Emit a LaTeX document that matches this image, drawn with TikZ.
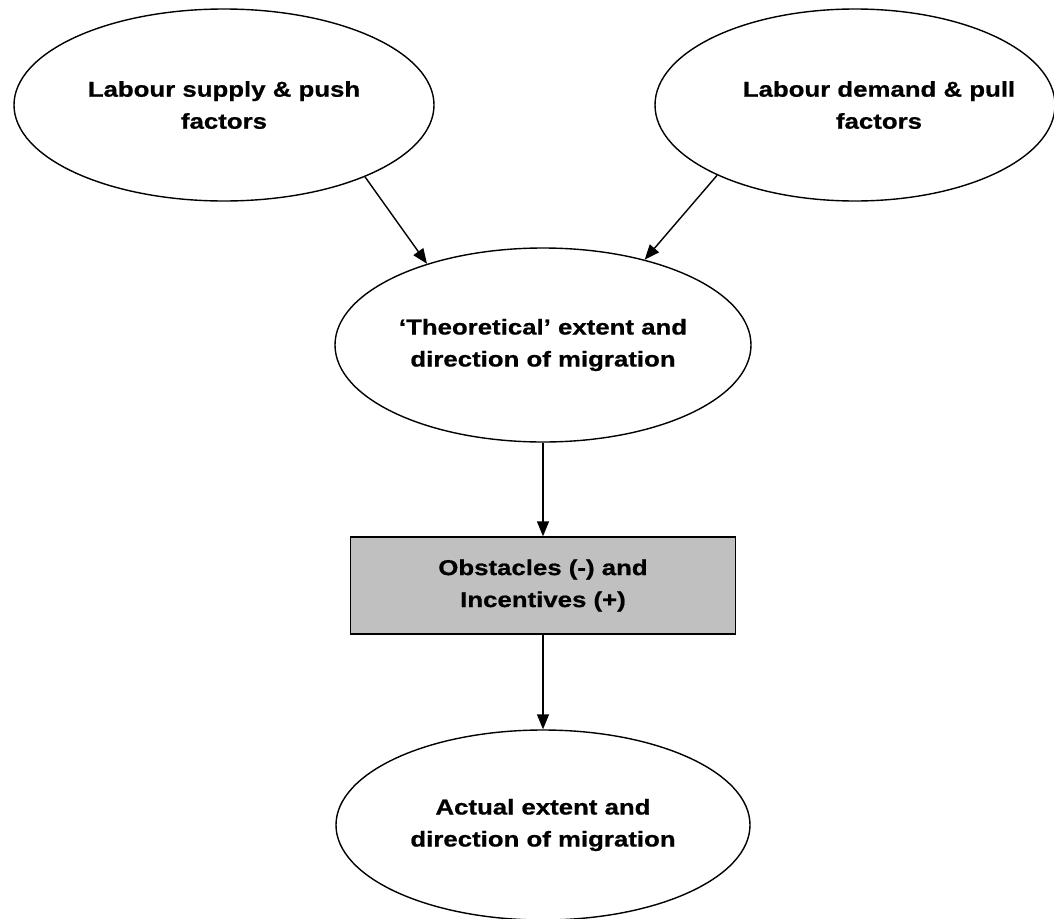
\documentclass[tikz,border=0pt]{standalone}
\usepackage{fontspec}
\setmainfont{Liberation Sans}[FakeStretch=1.2, BoldFeatures={FakeBold=0.8}]
\usetikzlibrary{shapes.geometric,arrows.meta}
\definecolor{boxgray}{HTML}{C0C0C0}
\tikzset{
  lbl/.style={font=\fontsize{21.5}{32}\selectfont\bfseries, align=center},
  ell/.style={draw, line width=1.4pt, ellipse, inner sep=0pt, fill=white},
  arr/.style={-{Triangle[length=15pt,width=12pt]}, line width=1.4pt}
}
\begin{document}
\begin{tikzpicture}[x=1pt,y=-1pt]
\useasboundingbox (0,0) rectangle (1054,918);
\node[ell, minimum width=420pt, minimum height=192pt, lbl] (a) at (224,105) {Labour supply \& push\\factors};
\node[ell, minimum width=400pt, minimum height=192pt,
      label={[lbl, xshift=24pt]center:Labour demand \& pull\\factors}] (b) at (855,105) {};
\node[ell, minimum width=416pt, minimum height=194pt, lbl] (c) at (543,345) {‘Theoretical’ extent and\\direction of migration};
\node[draw, line width=1.4pt, fill=boxgray, minimum width=385pt, minimum height=97pt, inner sep=0pt, lbl] (r) at (543,585.5) {Obstacles (-) and\\Incentives (+)};
\node[ell, minimum width=414pt, minimum height=190pt, lbl] (d) at (543,825) {Actual extent and\\direction of migration};
\draw[arr] (a.-27) -- (c.145);
\draw[arr] (b.-153) -- (c.40);
\draw[arr] (c.south) -- (r.north);
\draw[arr] (r.south) -- (d.north);
\end{tikzpicture}
\end{document}
